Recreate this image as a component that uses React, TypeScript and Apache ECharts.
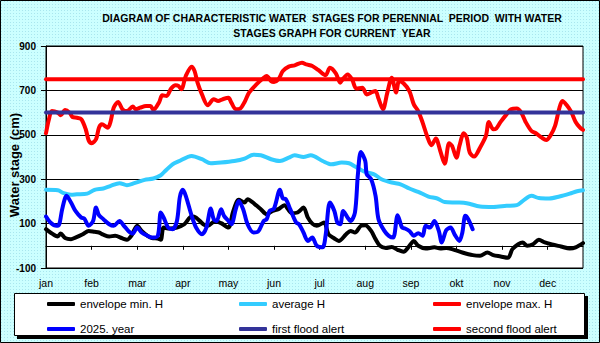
import React, { useEffect, useRef } from 'react';
import * as echarts from 'echarts';

const months = ['jan', 'feb', 'mar', 'apr', 'may', 'jun', 'jul', 'aug', 'sep', 'okt', 'nov', 'dec'];
const titleLines = [
  'DIAGRAM OF CHARACTERISTIC WATER  STAGES FOR PERENNIAL  PERIOD  WITH WATER',
  'STAGES GRAPH FOR CURRENT  YEAR',
];
const yAxisTitle = 'Water stage (cm)';

// [day of year, water stage cm]
const minH: [number, number][] = [
  [0, 75], [3, 60], [8, 42], [10, 55], [13, 35], [17, 30], [20, 37], [25, 52], [29, 67], [33, 63], [36, 60], [39, 50],
  [43, 42], [47, 45], [52, 33], [55, 27], [58, 45], [62, 90], [65, 67], [69, 45], [72, 35], [76, 33], [78, 27], [80, 82],
  [84, 78], [89, 82], [94, 97], [99, 132], [102, 127], [107, 97], [110, 90], [115, 112], [119, 102], [124, 82], [127, 150],
  [131, 207], [135, 195], [137, 210], [142, 187], [146, 165], [150, 142], [154, 157], [158, 165], [162, 183], [167, 147],
  [171, 150], [175, 172], [178, 127], [181, 100], [184, 90], [189, 105], [192, 52], [196, 33], [199, 22], [204, 52],
  [207, 67], [210, 60], [214, 90], [217, 93], [221, 67], [224, 30], [227, 0], [231, -10], [235, -5], [239, -18], [243, -27],
  [247, 0], [250, 22], [253, 0], [258, -12], [264, -7], [268, -12], [272, -10], [276, -15], [283, -30], [290, -42],
  [295, -45], [300, -30], [304, -42], [309, -48], [314, -54], [317, -15], [321, 7], [324, 15], [327, 0], [331, 7],
  [335, 27], [339, 15], [344, 6], [350, -3], [356, -12], [360, -7], [365, 12],
];

const avgH: [number, number][] = [
  [0, 252], [8, 250], [12, 237], [17, 230], [21, 232], [28, 235], [33, 252], [39, 258], [44, 270], [50, 282], [55, 273],
  [60, 282], [67, 297], [73, 303], [78, 318], [81, 337], [86, 367], [90, 380], [99, 405], [106, 390], [112, 372],
  [119, 375], [128, 382], [135, 393], [141, 410], [146, 408], [153, 390], [159, 382], [165, 397], [169, 408], [175, 400],
  [180, 408], [188, 382], [194, 367], [201, 375], [206, 372], [210, 357], [217, 333], [223, 322], [228, 300], [235, 285],
  [241, 277], [247, 258], [253, 243], [260, 222], [266, 213], [271, 197], [279, 195], [286, 192], [295, 177], [304, 175],
  [313, 180], [320, 183], [325, 207], [330, 225], [335, 215], [342, 213], [349, 222], [356, 235], [361, 246], [365, 250],
];

const maxH: [number, number][] = [
  [0, 507], [2, 570], [4, 607], [8, 600], [10, 588], [13, 612], [16, 600], [18, 580], [21, 577], [24, 570], [27, 525],
  [29, 475], [31, 462], [34, 480], [36, 532], [38, 547], [42, 532], [44, 562], [46, 622], [49, 648], [52, 615], [55, 607],
  [59, 627], [61, 615], [64, 622], [68, 630], [71, 630], [73, 612], [77, 648], [79, 678], [82, 675], [85, 708], [88, 723],
  [90, 720], [92, 705], [95, 765], [99, 807], [101, 787], [103, 735], [106, 682], [110, 633], [114, 660], [117, 652],
  [120, 660], [124, 667], [126, 645], [129, 615], [132, 618], [135, 648], [138, 690], [143, 727], [148, 757], [150, 765],
  [153, 742], [155, 738], [158, 750], [161, 787], [165, 807], [169, 813], [174, 825], [177, 817], [181, 810], [185, 792],
  [190, 768], [193, 802], [197, 777], [200, 735], [202, 753], [205, 772], [208, 750], [211, 708], [215, 712], [218, 682],
  [222, 693], [224, 697], [226, 663], [229, 615], [232, 690], [235, 757], [238, 690], [240, 742], [243, 732], [247, 697],
  [250, 637], [253, 607], [256, 555], [259, 495], [262, 453], [265, 483], [268, 427], [271, 370], [274, 462], [276, 450],
  [279, 397], [281, 450], [284, 507], [286, 487], [288, 420], [291, 402], [295, 442], [299, 495], [301, 558], [304, 525],
  [306, 528], [309, 558], [313, 592], [316, 615], [320, 618], [323, 600], [326, 558], [330, 517], [333, 507], [337, 487],
  [340, 477], [343, 498], [346, 540], [349, 622], [351, 652], [354, 633], [357, 603], [360, 558], [363, 532], [365, 522],
];

const year2025: [number, number][] = [
  [0, 132], [3, 105], [7, 90], [9, 97], [11, 165], [14, 225], [17, 195], [20, 157], [24, 127], [26, 123], [29, 90],
  [32, 112], [34, 172], [36, 138], [39, 120], [43, 97], [46, 90], [50, 112], [53, 90], [56, 67], [59, 55], [62, 82],
  [65, 60], [69, 45], [72, 37], [76, 45], [78, 150], [80, 127], [83, 82], [86, 75], [89, 112], [91, 220], [93, 252],
  [95, 225], [99, 135], [102, 82], [106, 52], [109, 82], [112, 168], [114, 120], [116, 112], [119, 165], [121, 135],
  [124, 112], [126, 97], [129, 165], [131, 202], [134, 165], [137, 97], [141, 60], [144, 63], [148, 112], [150, 120],
  [152, 157], [155, 168], [159, 252], [161, 213], [163, 210], [166, 165], [170, 105], [172, 97], [175, 60], [178, 22],
  [181, 37], [184, 0], [188, -7], [190, 45], [193, 195], [196, 157], [198, 105], [200, 97], [202, 157], [205, 127],
  [207, 112], [210, 150], [212, 322], [214, 423], [217, 382], [218, 322], [221, 300], [224, 225], [226, 120], [230, 67],
  [233, 45], [236, 37], [239, 138], [242, 82], [244, 78], [247, 67], [250, 45], [253, 57], [256, 45], [258, 90],
  [261, 82], [264, 112], [267, 67], [269, 15], [272, 70], [275, 82], [278, 48], [281, 22], [283, 60], [285, 135],
  [287, 120], [290, 75],
];

const firstFloodAlert = 600;
const secondFloodAlert = 750;
const yearDays = [0, 365];

export default function App() {
  const ref = useRef<HTMLDivElement>(null);
  useEffect(() => {
    document.body.style.margin = '0';
    const chart = echarts.init(ref.current!, null, { renderer: 'svg' });
    const font = 'Arial, "Liberation Sans", sans-serif';
    const line = (name: string, data: any[], color: string, z: number) => ({
      type: 'line',
      name,
      data,
      smooth: 0.3,
      symbol: 'none',
      z,
      itemStyle: { color },
      lineStyle: { color, width: 4, cap: 'round', join: 'round' },
    });
    const legendBase = {
      orient: 'vertical',
      top: 297,
      itemGap: 11,
      itemWidth: 28,
      itemHeight: 4,
      icon: 'roundRect',
      padding: 0,
      selectedMode: false,
      textStyle: { fontFamily: font, fontSize: 11.5, color: '#000', lineHeight: 14 },
    };
    chart.setOption({
      animation: false,
      backgroundColor: 'transparent',
      grid: {
        left: 46, right: 17, top: 46, bottom: 75,
        show: true, backgroundColor: '#fff', borderColor: '#000', borderWidth: 1,
      },
      xAxis: {
        type: 'value', min: 0, max: 365, interval: 31,
        axisLine: { show: true, lineStyle: { color: '#000', width: 1 } },
        axisTick: { show: true, length: 4, lineStyle: { color: '#000' } },
        splitLine: { show: false },
        axisLabel: {
          fontFamily: font, fontSize: 10.5, color: '#000', margin: 9, showMaxLabel: false,
          formatter: (v: number) => (v % 31 === 0 ? months[v / 31] ?? '' : ''),
        },
      },
      yAxis: {
        type: 'value', min: -100, max: 900, interval: 200,
        axisLine: { show: true, lineStyle: { color: '#000', width: 1 } },
        axisTick: { show: true, length: 5, lineStyle: { color: '#000' } },
        splitLine: { show: true, lineStyle: { color: '#000', width: 1 } },
        axisLabel: { fontFamily: font, fontSize: 10, fontWeight: 'bold', color: '#000', margin: 10 },
      },
      legend: [
        { ...legendBase, left: 47, data: ['envelope min. H', '2025. year'] },
        { ...legendBase, left: 239, data: ['average H', 'first flood alert'] },
        { ...legendBase, left: 433, data: ['envelope max. H', 'second flood alert'] },
      ],
      graphic: [
        { type: 'rect', z: -10, shape: { x: 0.5, y: 0.5, width: 599, height: 342 }, style: { fill: 'none', stroke: '#000', lineWidth: 1 } },
        { type: 'rect', z: -2, shape: { x: 17, y: 296, width: 571, height: 43 }, style: { fill: '#000' } },
        { type: 'rect', z: -1, shape: { x: 14.5, y: 293.5, width: 570, height: 42 }, style: { fill: '#fff', stroke: '#000', lineWidth: 1 } },
        {
          type: 'text', x: 332, y: 11,
          style: { text: titleLines.join('\n'), font: `bold 10.5px ${font}`, fill: '#000', align: 'center', verticalAlign: 'top', lineHeight: 14.5 },
        },
        {
          type: 'text', x: 14, y: 165, rotation: Math.PI / 2,
          style: { text: yAxisTitle, font: `bold 13px ${font}`, fill: '#000', align: 'center', verticalAlign: 'middle' },
        },
      ],
      series: [
        line('envelope min. H', minH, '#000000', 2),
        line('average H', avgH, '#33ccff', 3),
        line('envelope max. H', maxH, '#ff0000', 4),
        line('2025. year', year2025, '#0000ff', 5),
        line('first flood alert', yearDays.map((d) => [d, firstFloodAlert]), '#333399', 6),
        line('second flood alert', yearDays.map((d) => [d, secondFloodAlert]), '#ff0000', 7),
      ],
    });
    return () => chart.dispose();
  }, []);
  return (
    <div
      ref={ref}
      style={{
        width: 600,
        height: 343,
        backgroundColor: '#ccffff',
        backgroundImage: 'radial-gradient(#a9e6ee 0.7px, transparent 0.9px)',
        backgroundSize: '3px 3px',
      }}
    />
  );
}
